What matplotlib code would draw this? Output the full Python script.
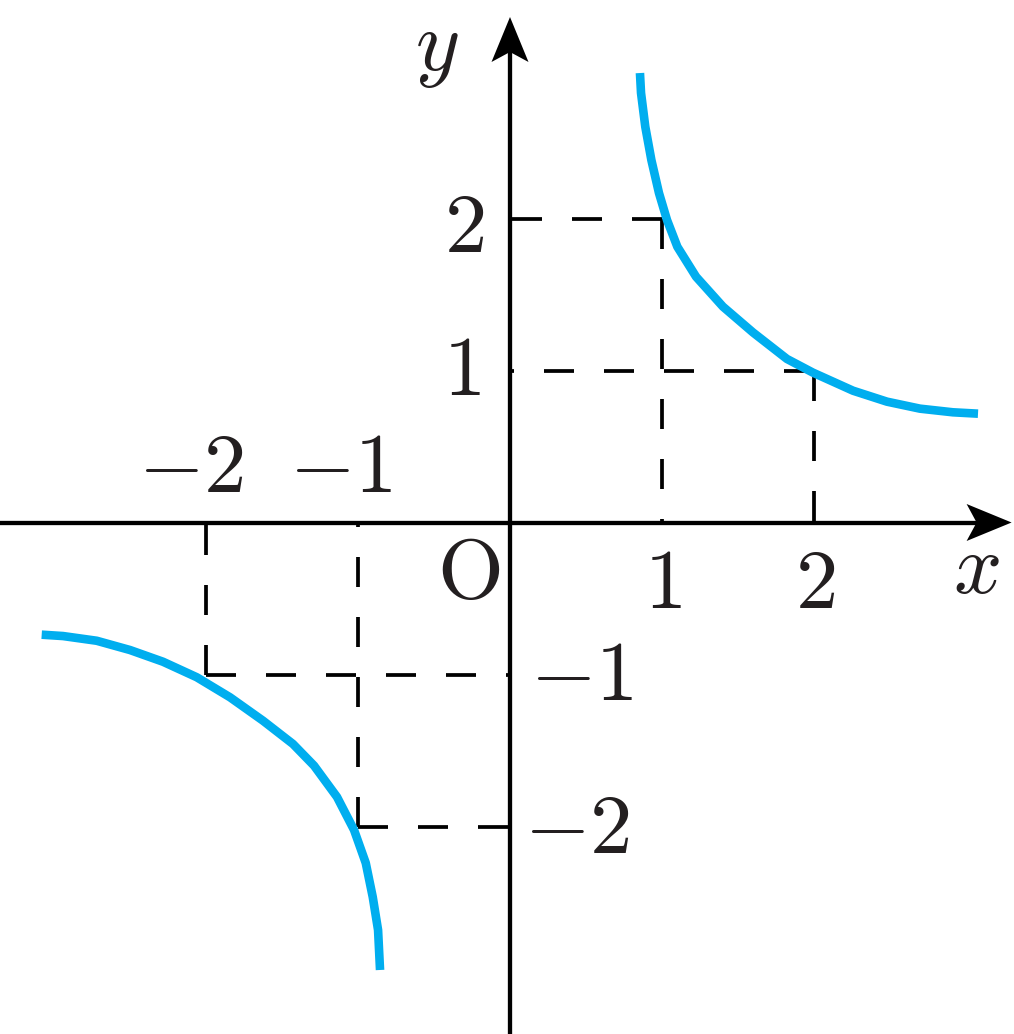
import numpy as np
import matplotlib as mpl
mpl.use("agg")
import matplotlib.pyplot as plt
from matplotlib.patches import Polygon

# curve points (branch in 1st and 3rd quadrant)
x_up=[0.855,0.862,0.890,0.930,0.980,1.033,1.101,1.224,1.401,1.599,1.822,1.993,2.257,2.480,2.697,2.914,3.079]
y_up=[2.957,2.826,2.604,2.385,2.168,1.990,1.814,1.617,1.420,1.250,1.076,0.986,0.867,0.795,0.749,0.725,0.716]
x_lo=[-3.081,-2.941,-2.719,-2.500,-2.283,-2.061,-1.842,-1.625,-1.428,-1.289,-1.138,-1.026,-0.949,-0.903,-0.868,-0.855]
y_lo=[-0.738,-0.747,-0.778,-0.839,-0.916,-1.018,-1.150,-1.304,-1.457,-1.600,-1.806,-2.023,-2.240,-2.464,-2.681,-2.944]

# dashed guide corners
corners=[(1,2),(2,1),(-2,-1),(-1,-2)]

# labels: (text, x, y)
labels=[(r"$2$",-0.303,1.78),(r"$1$",-0.316,0.839),
        (r"$-2$",-2.099,0.201),(r"$-1$",-1.112,0.201),
        (r"$\mathrm{O}$",-0.27,-0.497),(r"$1$",1.007,-0.5625),(r"$2$",2.007,-0.5625),
        (r"$-1$",0.474,-1.168),(r"$-2$",0.441,-2.174),
        (r"$y$",-0.48,2.975),(r"$x$",3.07,-0.464)]

U=152.0   # pixels per unit
ox,oy=510.0,522.5
W,H=1014,1034

mpl.rcParams["mathtext.fontset"]="cm"
mpl.rcParams["lines.scale_dashes"]=False

fig=plt.figure(figsize=(W/100,H/100),dpi=100)
ax=fig.add_axes([0,0,1,1])
ax.set_xlim(-ox/U,(W-ox)/U)
ax.set_ylim((oy-H)/U,oy/U)
ax.axis("off")

# dashed lines, drawn from the corner toward the axes
dash=dict(color="black",lw=2.7,dashes=(21.6,21.6),dash_capstyle="butt")
for cx,cy in corners:
    ax.plot([cx,0],[cy,cy],**dash)
    ax.plot([cx,cx],[cy,0],**dash)

# axes
axw=3.1
xtip=3.30
ytip=(oy-17)/U
L,Wd,notch=45/U,37/U,10/U
ax.plot([-ox/U,xtip-L+notch],[0,0],color="black",lw=axw,solid_capstyle="butt")
ax.plot([0,0],[(oy-H)/U,ytip-L+notch],color="black",lw=axw,solid_capstyle="butt")
ax.add_patch(Polygon([(xtip,0),(xtip-L,Wd/2),(xtip-L+notch,0),(xtip-L,-Wd/2)],
                     closed=True,color="black",lw=0))
ax.add_patch(Polygon([(0,ytip),(-Wd/2,ytip-L),(0,ytip-L+notch),(Wd/2,ytip-L)],
                     closed=True,color="black",lw=0))

# the two branches
for xs,ys in ((x_up,y_up),(x_lo,y_lo)):
    ax.plot(xs,ys,color="#00aeef",lw=6.2,solid_capstyle="butt",solid_joinstyle="round")

for t,x,y in labels:
    ax.text(x,y,t,fontsize=61,ha="center",va="baseline",color="#231f20")

fig.savefig("out.png",dpi=100)
